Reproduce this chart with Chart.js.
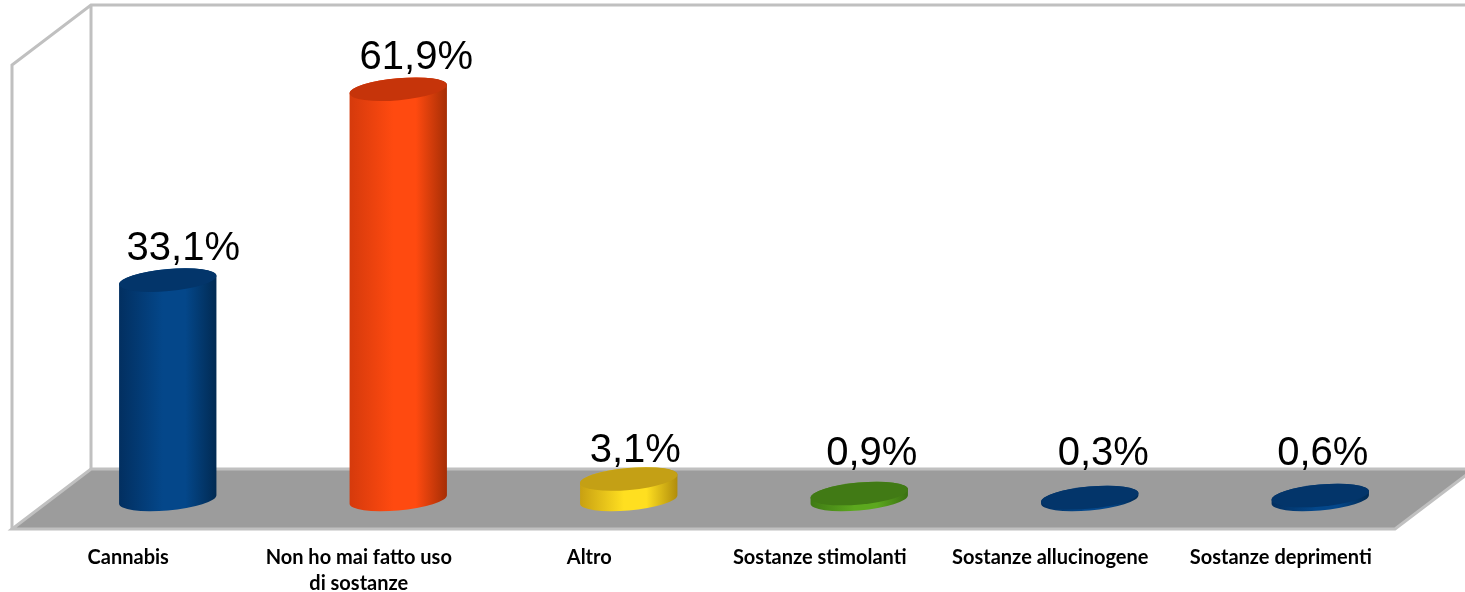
<!DOCTYPE html>
<html>
<head>
<meta charset="utf-8">
<title>Sostanze</title>
<script src="https://cdn.jsdelivr.net/npm/chart.js@4/dist/chart.umd.min.js"></script>
<style>
html, body { margin: 0; padding: 0; background: #fff; overflow: hidden; }
canvas { display: block; }
</style>
</head>
<body>
<canvas id="myChart" width="1465" height="592"></canvas>
<script>
// data
var categories = [
	'Cannabis',
	['Non ho mai fatto uso', 'di sostanze'],
	'Altro',
	'Sostanze stimolanti',
	'Sostanze allucinogene',
	'Sostanze deprimenti'
];
var percentages = [33.1, 61.9, 3.1, 0.9, 0.3, 0.6];

// colours of the cylinders
var barColors = ['#04478a', '#ff4a10', '#ffdf20', '#5ca81e', '#04478a', '#04478a'];
var leftEdgeColors = ['#022f60', '#d53a0c', '#c8a012', '#3f7a14', '#022f60', '#022f60'];
var rightEdgeColors = ['#012a52', '#a52e05', '#b08c0c', '#3a7012', '#012a52', '#012a52'];
var capColors = ['#03356a', '#c6340a', '#c4a015', '#417a15', '#03356a', '#03356a'];

// hand placed labels, relative to the top of each cylinder
var labelShiftX = [15.5, 18, 6.5, 12.5, 13.5, 2.5];
var labelShiftY = [-20, -20, -17, -29, -33, -31];

// the 3d box
var depthX = 79;
var depthY = 60;
var barShiftX = 40.5;
var barShiftY = 29.5;
var tilt = -5.2 * Math.PI / 180;
var capRadiusY = 11;

function cylinder(ctx, el, i) {
	var cx = el.x + barShiftX;
	var rx = el.width / 2;
	var topY = el.y - barShiftY;
	var baseY = el.base - barShiftY;
	// angle where the tilted ellipse has its right-most point
	var t0 = Math.atan2(-capRadiusY * Math.sin(tilt), rx * Math.cos(tilt));

	var grad = ctx.createLinearGradient(cx - rx, 0, cx + rx, 0);
	grad.addColorStop(0, leftEdgeColors[i]);
	grad.addColorStop(0.45, barColors[i]);
	grad.addColorStop(0.68, barColors[i]);
	grad.addColorStop(1, rightEdgeColors[i]);

	// body runs under the whole cap, so no seam shows
	ctx.beginPath();
	ctx.ellipse(cx, baseY, rx, capRadiusY, tilt, t0, t0 + Math.PI);
	ctx.ellipse(cx, topY, rx, capRadiusY, tilt, t0 + Math.PI, t0 + Math.PI * 2);
	ctx.closePath();
	ctx.fillStyle = grad;
	ctx.fill();

	ctx.beginPath();
	ctx.ellipse(cx, topY, rx, capRadiusY, tilt, 0, Math.PI * 2);
	ctx.fillStyle = capColors[i];
	ctx.fill();
}

var box3d = {
	id: 'box3d',
	beforeDatasetsDraw: function (chart) {
		var ctx = chart.ctx;
		var a = chart.chartArea;
		ctx.save();

		// floor
		ctx.beginPath();
		ctx.moveTo(a.left, a.bottom);
		ctx.lineTo(a.right, a.bottom);
		ctx.lineTo(a.right + depthX, a.bottom - depthY);
		ctx.lineTo(a.left + depthX, a.bottom - depthY);
		ctx.closePath();
		ctx.fillStyle = '#9c9c9c';
		ctx.fill();
		ctx.strokeStyle = '#c0c0c0';
		ctx.lineWidth = 3;
		ctx.stroke();

		// walls
		ctx.beginPath();
		ctx.moveTo(a.left, a.bottom);
		ctx.lineTo(a.left, a.top);
		ctx.lineTo(a.left + depthX, a.top - depthY);
		ctx.lineTo(a.right + depthX, a.top - depthY);
		ctx.moveTo(a.left + depthX, a.top - depthY);
		ctx.lineTo(a.left + depthX, a.bottom - depthY);
		ctx.stroke();
		ctx.restore();
	},
	// the flat bars get replaced by cylinders
	beforeDatasetDraw: function (chart, args) {
		var ctx = chart.ctx;
		ctx.save();
		args.meta.data.forEach(function (el, i) {
			cylinder(ctx, el, i);
		});
		ctx.restore();
		return false;
	},
	afterDatasetsDraw: function (chart) {
		var ctx = chart.ctx;
		var meta = chart.getDatasetMeta(0);
		ctx.save();
		ctx.font = '40px "Liberation Sans"';
		ctx.fillStyle = '#000';
		ctx.textAlign = 'center';
		ctx.textBaseline = 'alphabetic';
		meta.data.forEach(function (el, i) {
			var text = percentages[i].toFixed(1).replace('.', ',') + '%';
			ctx.fillText(text, el.x + barShiftX + labelShiftX[i], el.y - barShiftY + labelShiftY[i]);
		});
		ctx.restore();
	}
};

var ctx = document.getElementById('myChart').getContext('2d');
var chart = new Chart(ctx, {
	type: 'bar',
	data: {
		labels: categories,
		datasets: [{
			data: percentages,
			backgroundColor: barColors,
			barPercentage: 0.424,
			categoryPercentage: 1
		}]
	},
	options: {
		responsive: false,
		animation: false,
		devicePixelRatio: 1,
		layout: {
			padding: { left: 12, right: 70, top: 65, bottom: 0 }
		},
		plugins: {
			legend: { display: false },
			tooltip: { enabled: false }
		},
		scales: {
			x: {
				// labels may run to the canvas edge, keep the axis at the height of the picture
				afterFit: function (scale) {
					scale.height = 63;
				},
				grid: { display: false },
				border: { display: false },
				ticks: {
					autoSkip: false,
					maxRotation: 0,
					padding: 8,
					labelOffset: 1,
					color: '#000',
					font: { family: 'Lato', size: 20, weight: 'bold', lineHeight: 1.3 }
				}
			},
			y: {
				display: false,
				min: 0,
				max: 70
			}
		}
	},
	plugins: [box3d]
});
</script>
</body>
</html>
